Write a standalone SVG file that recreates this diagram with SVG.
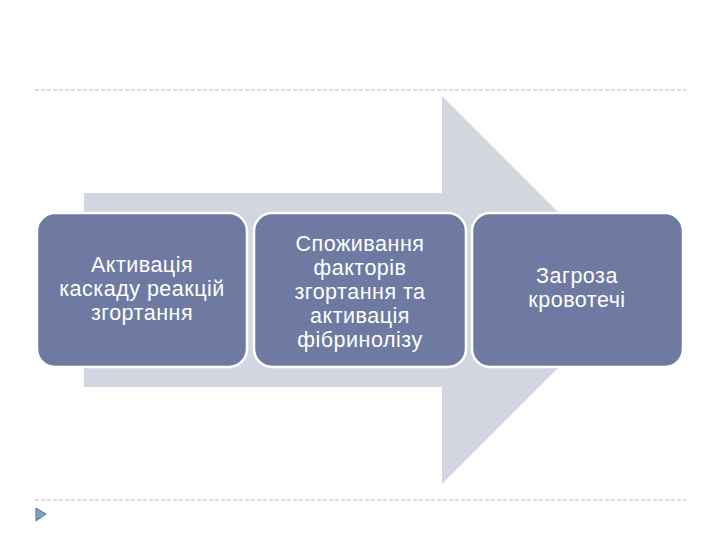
<svg xmlns="http://www.w3.org/2000/svg" width="720" height="540" viewBox="0 0 720 540">
<style>
.dash{stroke:#b8b8b8;stroke-width:1;stroke-dasharray:4 2;fill:none}
.box{fill:#6e7aa2;stroke:#ffffff;stroke-width:2.5}
.t{font-family:"Liberation Sans",Arial,sans-serif;font-size:21.5px;letter-spacing:0.5px;fill:#ffffff;text-anchor:middle}
</style>
<rect width="720" height="540" fill="#ffffff"/>
<line class="dash" x1="35" y1="90" x2="686" y2="90"/>
<line class="dash" x1="35" y1="500" x2="686" y2="500"/>
<polygon points="36,508 46,514 36,521" fill="#7f9fcc" stroke="#5a6f90" stroke-width="1"/>
<g id="connectors">
<polygon points="84,193 442,193 442,96 636,290 442,484 442,387 84,387" fill="#d3d6e0"/>
</g>
<g id="node1">
<rect class="box" x="37" y="213" width="210" height="154" rx="18"/>
<text class="t" x="142" y="272">Активація</text>
<text class="t" x="142" y="296">каскаду реакцій</text>
<text class="t" x="142" y="320">згортання</text>
</g>
<g id="node2">
<rect class="box" x="254" y="213" width="212" height="154" rx="18"/>
<text class="t" x="360" y="251">Споживання</text>
<text class="t" x="360" y="275">факторів</text>
<text class="t" x="360" y="299">згортання та</text>
<text class="t" x="360" y="323">активація</text>
<text class="t" x="360" y="347">фібринолізу</text>
</g>
<g id="node3">
<rect class="box" x="472" y="213" width="211" height="154" rx="18"/>
<text class="t" x="577" y="283">Загроза</text>
<text class="t" x="577" y="307">кровотечі</text>
</g>
</svg>
